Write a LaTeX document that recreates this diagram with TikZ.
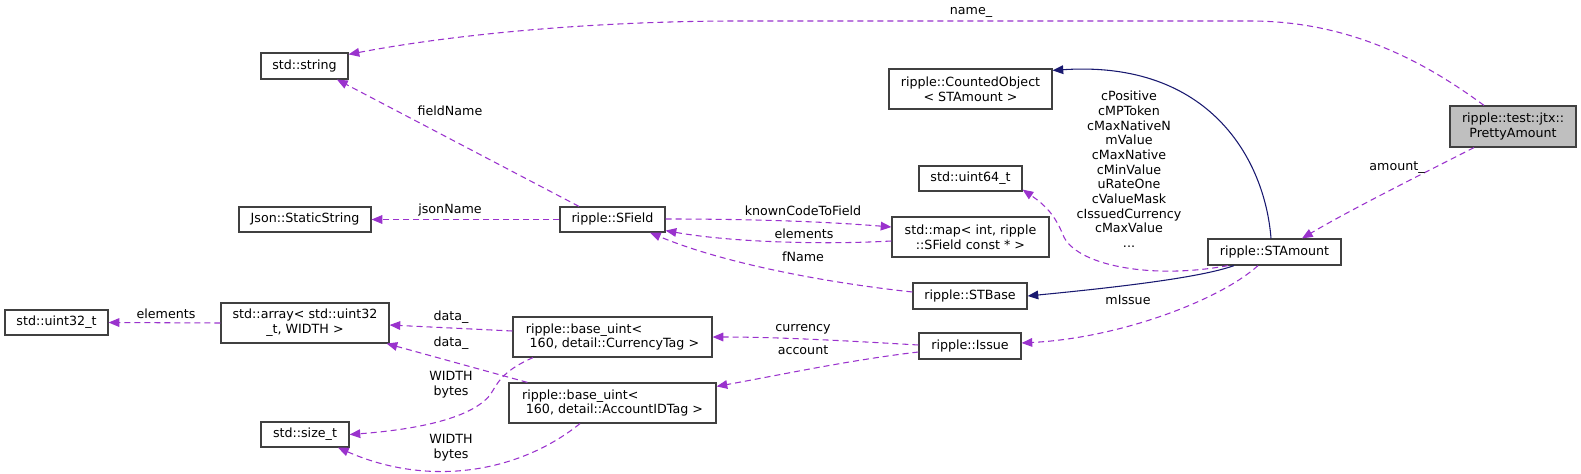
\documentclass[tikz,border=0pt]{standalone}
\usepackage{fontspec}
\setmainfont{DejaVu Sans}
\usetikzlibrary{arrows.meta,calc}
\definecolor{usepurple}{HTML}{9A32CD}
\definecolor{inhblue}{HTML}{191970}
\definecolor{boxc}{HTML}{404040}
\definecolor{hlgray}{HTML}{BFBFBF}
\newcommand\dxfont{\fontsize{9.5}{11}\selectfont}
\begin{document}
\begin{tikzpicture}[x=0.75pt,y=-0.75pt,
  cls/.style n args={2}{draw=boxc, line width=0.9pt, fill=white,
    minimum width={#1*0.75pt}, minimum height={#2*0.75pt},
    inner sep=0pt, align=center, font=\dxfont},
  uses/.style={draw=usepurple, line width=0.8pt, dash pattern=on 4.5pt off 3pt,
    -{Triangle[length=8pt,width=6.5pt]}},
  inh/.style={draw=inhblue, line width=0.8pt,
    -{Triangle[length=8pt,width=6.5pt]}},
  lbl/.style={inner sep=0pt, font=\dxfont, align=center}]
\useasboundingbox (0,0) rectangle (1581,474);
% nodes
\node[cls={126}{41}, fill=hlgray] (pa) at (1513,126.5) {ripple::test::jtx::\\PrettyAmount};
\node[cls={87}{26}] (str) at (304.5,66) {std::string};
\node[cls={163}{40}] (co) at (970.5,89) {ripple::CountedObject\\< STAmount >};
\node[cls={103}{25}] (u64) at (970.5,178.5) {std::uint64\_t};
\node[cls={132}{25}] (json) at (305,219.5) {Json::StaticString};
\node[cls={105}{25}] (sf) at (612.5,219.5) {ripple::SField};
\node[cls={157}{40}] (map) at (970.5,237) {std::map< int, ripple\\::SField const * >};
\node[cls={133}{26}] (sta) at (1274.5,252) {ripple::STAmount};
\node[cls={114}{26}] (stb) at (970,296) {ripple::STBase};
\node[cls={103}{25}] (u32) at (56.5,322.5) {std::uint32\_t};
\node[cls={168}{40}] (arr) at (305,323) {std::array< std::uint32\\\_t, WIDTH >};
\node[cls={199}{40}, align=left] (cur) at (612.5,337) {ripple::base\_uint<\\\hspace*{0.3em}160, detail::CurrencyTag >};
\node[cls={102}{26}] (iss) at (970,346) {ripple::Issue};
\node[cls={207}{40}, align=left] (acc) at (612.5,403) {ripple::base\_uint<\\\hspace*{0.3em}160, detail::AccountIDTag >};
\node[cls={88}{25}] (szt) at (305,434.5) {std::size\_t};
% edges
\draw[uses] ($(pa.north)+(-29,0)$) .. controls (1425,62) and (1350,21) .. (1250,21) -- (740,21) .. controls (590,21) and (450,35) .. ($(str.north east)+(0,2)$);
\draw[uses] ($(pa.south)+(-39,0)$) .. controls (1420,175) and (1350,210) .. ($(sta.north)+(27.5,0)$);
\draw[inh] ($(sta.north)+(-3.5,0)$) .. controls (1265,160) and (1210,60) .. ($(co.north east)+(0,2)$);
\draw[inh] ($(sta.south)+(-40.5,0)$) .. controls (1200,278) and (1110,288) .. (stb.east);
\draw[uses] ($(sta.south)+(-46.5,0)$) .. controls (1150,280) and (1075,265) .. (1063,235) .. controls (1055,215) and (1045,205) .. ($(u64.south east)+(0,-2)$);
\draw[uses] ($(sf.north)+(-33.5,0)$) -- ($(str.south)+(32.5,0)$);
\draw[uses] (sf.west) -- (json.east);
\draw[uses] ($(sf.east)+(0,-0.5)$) .. controls (760,219) and (830,222) .. ($(map.west)+(0,-10)$);
\draw[uses] ($(map.west)+(0,4)$) .. controls (820,245) and (730,242) .. ($(sf.south east)+(0,-2)$);
\draw[uses] ($(stb.west)+(0,-4)$) .. controls (820,282) and (720,262) .. ($(sf.south)+(37.5,0)$);
\draw[uses] ($(sta.south)+(-16.5,0)$) .. controls (1220,300) and (1120,338) .. ($(iss.east)+(0,-3)$);
\draw[uses] ($(iss.west)+(0,-1)$) .. controls (850,341) and (780,337) .. (cur.east);
\draw[uses] ($(iss.west)+(0,6)$) .. controls (850,360) and (780,375) .. ($(acc.north east)+(0,4)$);
\draw[uses] ($(cur.west)+(0,-6)$) -- ($(arr.east)+(0,2)$);
\draw[uses] ($(acc.north west)+(19,0)$) -- ($(arr.south east)+(-3,0)$);
\draw[uses] (arr.west) -- (u32.east);
\draw[uses] ($(cur.south)+(-79.5,0)$) .. controls (500,372) and (497,385) .. (490,395) .. controls (470,420) and (410,430) .. (szt.east);
\draw[uses] ($(acc.south)+(-32.5,0)$) .. controls (520,472) and (430,488) .. ($(szt.south)+(33,0)$);
% labels
\node[lbl] (l1) at (971,12) {name\_};
\node[lbl] (l2) at (1397,168) {amount\_};
\node[lbl] (l3) at (1129,169.5) {cPositive\\cMPToken\\cMaxNativeN\\mValue\\cMaxNative\\cMinValue\\uRateOne\\cValueMask\\cIssuedCurrency\\cMaxValue\\...};
\node[lbl] (l4) at (450,111) {fieldName};
\node[lbl] (l5) at (450,210) {jsonName};
\node[lbl] (l6) at (803,211) {knownCodeToField};
\node[lbl] (l7) at (804,234) {elements};
\node[lbl] (l8) at (803,257) {fName};
\node[lbl] (l9) at (1128,300) {mIssue};
\node[lbl] (l10) at (803,329) {currency};
\node[lbl] (l11) at (803,350) {account};
\node[lbl] (l12) at (451,317) {data\_};
\node[lbl] (l13) at (451,343) {data\_};
\node[lbl] (l14) at (166,314) {elements};
\node[lbl] (l15) at (451,385) {WIDTH\\bytes};
\node[lbl] (l16) at (451,448) {WIDTH\\bytes};
\end{tikzpicture}
\end{document}
